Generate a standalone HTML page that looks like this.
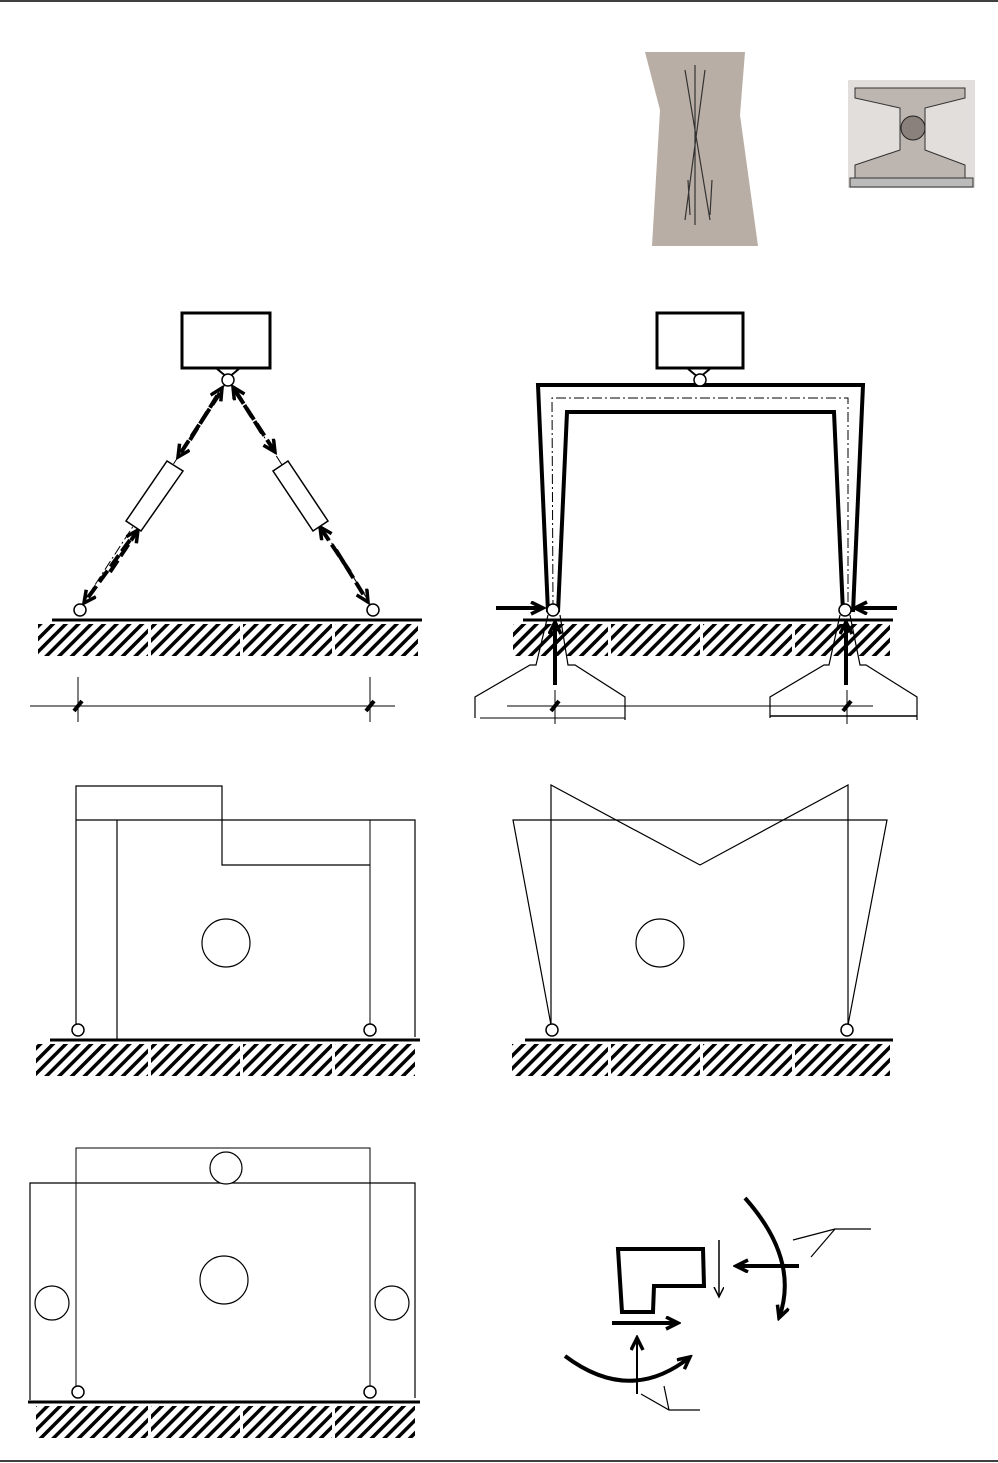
<!DOCTYPE html>
<html><head><style>body{margin:0;background:#fff}svg{display:block}</style></head><body>
<svg width="998" height="1463" viewBox="0 0 998 1463" xmlns="http://www.w3.org/2000/svg">
<defs>
<pattern id="h" width="9" height="9" patternUnits="userSpaceOnUse" patternTransform="rotate(45)">
<rect width="3.5" height="9" fill="#000"/></pattern>
<marker id="a" markerWidth="12" markerHeight="12" refX="10" refY="5" orient="auto" markerUnits="userSpaceOnUse"><path d="M0,0 L10,5 L0,10" fill="none" stroke="#000" stroke-width="1.5"/></marker>
<marker id="b" markerWidth="16" markerHeight="16" refX="13" refY="7" orient="auto" markerUnits="userSpaceOnUse"><path d="M1,1 L13,7 L1,13" fill="none" stroke="#000" stroke-width="3.5"/></marker>
</defs>
<g stroke="#000" fill="none">
<line x1="0" y1="1" x2="998" y2="1" stroke-width="1.5"/>
<line x1="0" y1="1461" x2="998" y2="1461" stroke-width="1.5"/>
</g>
<!-- photos -->
<path d="M645,52 L745,52 L740,115 L758,246 L652,246 L660,110 Z" fill="#b9aea5"/>
<g stroke="#333" fill="none" stroke-width="1.2"><path d="M685,70 L710,220 M705,70 L685,220 M695,65 L695,225 M688,180 L690,215 M712,180 L710,215"/></g>
<rect x="848" y="80" width="127" height="108" fill="#e2dedb"/>
<path d="M855,88 L965,88 L965,98 L925,108 L925,150 L965,165 L965,178 L855,178 L855,165 L900,150 L900,108 L855,98 Z" fill="#bcb5b0" stroke="#333"/>
<circle cx="913" cy="128" r="12" fill="#8a817c" stroke="#222"/>
<rect x="850" y="178" width="123" height="9" fill="#bbb" stroke="#333"/>
<!-- hatches -->
<rect x="38" y="624" width="380" height="32" fill="url(#h)"/>
<rect x="513" y="624" width="377" height="32" fill="url(#h)"/>
<rect x="36" y="1044" width="379" height="32" fill="url(#h)"/>
<rect x="512" y="1044" width="378" height="32" fill="url(#h)"/>
<rect x="36" y="1406" width="379" height="32" fill="url(#h)"/>
<g fill="#fff">
<rect x="148" y="624" width="3" height="32"/><rect x="240" y="624" width="3" height="32"/><rect x="332" y="624" width="3" height="32"/>
<rect x="608" y="624" width="3" height="32"/><rect x="700" y="624" width="3" height="32"/><rect x="792" y="624" width="3" height="32"/>
<rect x="148" y="1044" width="3" height="32"/><rect x="240" y="1044" width="3" height="32"/><rect x="332" y="1044" width="3" height="32"/>
<rect x="608" y="1044" width="3" height="32"/><rect x="700" y="1044" width="3" height="32"/><rect x="792" y="1044" width="3" height="32"/>
<rect x="148" y="1406" width="3" height="32"/><rect x="240" y="1406" width="3" height="32"/><rect x="332" y="1406" width="3" height="32"/>
</g>
<g stroke="#000" fill="none">
<!-- D1 -->
<rect x="182" y="313" width="88" height="55" stroke-width="3"/>
<path d="M216,368 L228,378 L240,368" stroke-width="2"/>
<line x1="52" y1="620" x2="422" y2="620" stroke-width="3"/>
<path d="M228,380 L80,608 M228,380 L373,608" stroke-width="1" stroke-dasharray="10,3,2,3"/>
<g stroke-width="4" stroke-dasharray="14,5">
<line x1="220" y1="393" x2="178" y2="457" marker-end="url(#b)"/>
<line x1="190" y1="440" x2="222" y2="388" marker-end="url(#b)"/>
<line x1="130" y1="540" x2="84" y2="603" marker-end="url(#b)"/>
<line x1="110" y1="572" x2="138" y2="530" marker-end="url(#b)"/>
<line x1="236" y1="392" x2="275" y2="452" marker-end="url(#b)"/>
<line x1="262" y1="433" x2="233" y2="387" marker-end="url(#b)"/>
<line x1="336" y1="550" x2="368" y2="602" marker-end="url(#b)"/>
<line x1="350" y1="572" x2="320" y2="527" marker-end="url(#b)"/></g>
<path d="M167,461 L183,471 L141,531 L126,521 Z" fill="#fff" stroke-width="1.5"/>
<path d="M288,461 L273,471 L313,531 L328,521 Z" fill="#fff" stroke-width="1.5"/>
<circle cx="228" cy="380" r="6" fill="#fff" stroke-width="1.5"/>
<circle cx="80" cy="610" r="6" fill="#fff" stroke-width="1.5"/>
<circle cx="373" cy="610" r="6" fill="#fff" stroke-width="1.5"/>
<line x1="30" y1="706" x2="395" y2="706"/>
<line x1="78" y1="677" x2="78" y2="722"/><line x1="370" y1="677" x2="370" y2="722"/>
<line x1="74" y1="711" x2="82" y2="701" stroke-width="4"/><line x1="366" y1="711" x2="374" y2="701" stroke-width="4"/>
<!-- D2 -->
<rect x="657" y="313" width="86" height="55" stroke-width="3"/>
<path d="M687,368 L699,378 L711,368" stroke-width="2"/>
<path d="M548,612 L538,385 L863,385 L853,612" stroke-width="4"/>
<path d="M558,612 L567,412 L834,412 L843,612" stroke-width="4"/>
<path d="M553,610 L552,398 L848,398 L848,610" stroke-width="1" stroke-dasharray="10,3,2,3"/>
<line x1="523" y1="620" x2="893" y2="620" stroke-width="3"/>
<circle cx="700" cy="380" r="6" fill="#fff" stroke-width="1.5"/>
<circle cx="553" cy="610" r="6" fill="#fff" stroke-width="1.5"/>
<circle cx="845" cy="610" r="6" fill="#fff" stroke-width="1.5"/>
<g stroke-width="4"><line x1="496" y1="608" x2="543" y2="608" marker-end="url(#b)"/>
<line x1="897" y1="608" x2="855" y2="608" marker-end="url(#b)"/>
<line x1="555" y1="685" x2="555" y2="622" marker-end="url(#b)"/>
<line x1="846" y1="685" x2="846" y2="622" marker-end="url(#b)"/></g>
<path d="M548,615 L536,665 L530,665 L475,697 L475,718 M560,615 L568,665 L575,665 L625,697 L625,720" stroke-width="1.2"/>
<path d="M840,615 L829,665 L824,665 L770,697 L770,718 M850,615 L860,665 L866,665 L917,697 L917,720" stroke-width="1.2"/>
<line x1="480" y1="718" x2="625" y2="718"/><line x1="770" y1="716" x2="917" y2="716" stroke-width="1.5"/>
<line x1="507" y1="706" x2="873" y2="706"/>
<line x1="555" y1="690" x2="555" y2="724"/><line x1="847" y1="690" x2="847" y2="724"/>
<line x1="551" y1="711" x2="559" y2="701" stroke-width="4"/><line x1="843" y1="711" x2="851" y2="701" stroke-width="4"/>
<!-- D3 -->
<line x1="50" y1="1040" x2="420" y2="1040" stroke-width="3"/>
<path d="M76,1030 L76,786 L222,786 L222,865 L370,865" stroke-width="1.2"/>
<path d="M76,820 L415,820 L415,1037" stroke-width="1.2"/>
<line x1="117" y1="820" x2="117" y2="1040" stroke-width="1.2"/>
<line x1="370" y1="820" x2="370" y2="1028" stroke-width="1"/>
<circle cx="226" cy="943" r="24" stroke-width="1.2"/>
<circle cx="78" cy="1030" r="6" fill="#fff" stroke-width="1.5"/>
<circle cx="370" cy="1030" r="6" fill="#fff" stroke-width="1.5"/>
<!-- D4 -->
<line x1="525" y1="1040" x2="893" y2="1040" stroke-width="3"/>
<path d="M551,1025 L551,785 L700,865 L848,785 L848,1025" stroke-width="1.2"/>
<path d="M551,1025 L513,820 L887,820 L848,1025" stroke-width="1.2"/>
<circle cx="660" cy="943" r="24" stroke-width="1.2"/>
<circle cx="552" cy="1030" r="6" fill="#fff" stroke-width="1.5"/>
<circle cx="847" cy="1030" r="6" fill="#fff" stroke-width="1.5"/>
<!-- D5 -->
<line x1="28" y1="1402" x2="420" y2="1402" stroke-width="3"/>
<path d="M76,1388 L76,1148 L370,1148 L370,1388" stroke-width="1"/>
<path d="M30,1400 L30,1183 L415,1183 L415,1398" stroke-width="1.2"/>
<circle cx="226" cy="1168" r="16" fill="#fff" stroke-width="1.2"/>
<circle cx="224" cy="1280" r="24" stroke-width="1.2"/>
<circle cx="52" cy="1303" r="17" stroke-width="1.2"/>
<circle cx="392" cy="1303" r="17" stroke-width="1.2"/>
<circle cx="78" cy="1392" r="6" fill="#fff" stroke-width="1.5"/>
<circle cx="370" cy="1392" r="6" fill="#fff" stroke-width="1.5"/>
<!-- D6 -->
<path d="M618,1249 L703,1249 L704,1286 L654,1286 L653,1312 L622,1312 Z" stroke-width="4"/>
<line x1="719" y1="1240" x2="719" y2="1297" stroke-width="1.5" marker-end="url(#a)"/>
<line x1="799" y1="1266" x2="736" y2="1266" stroke-width="4" marker-end="url(#b)"/>
<path d="M745,1198 Q800,1260 779,1318" stroke-width="4" marker-end="url(#b)"/>
<line x1="612" y1="1323" x2="678" y2="1323" stroke-width="4" marker-end="url(#b)"/>
<line x1="637" y1="1394" x2="637" y2="1338" stroke-width="2" marker-end="url(#b)"/>
<path d="M565,1356 Q630,1405 690,1357" stroke-width="4" marker-end="url(#b)"/>
<path d="M793,1240 L835,1229 L871,1229 M835,1229 L811,1257" stroke-width="1.2"/>
<path d="M641,1394 L669,1410 L700,1410 M669,1410 L664,1386" stroke-width="1.2"/>
</g>
</svg>
</body></html>
